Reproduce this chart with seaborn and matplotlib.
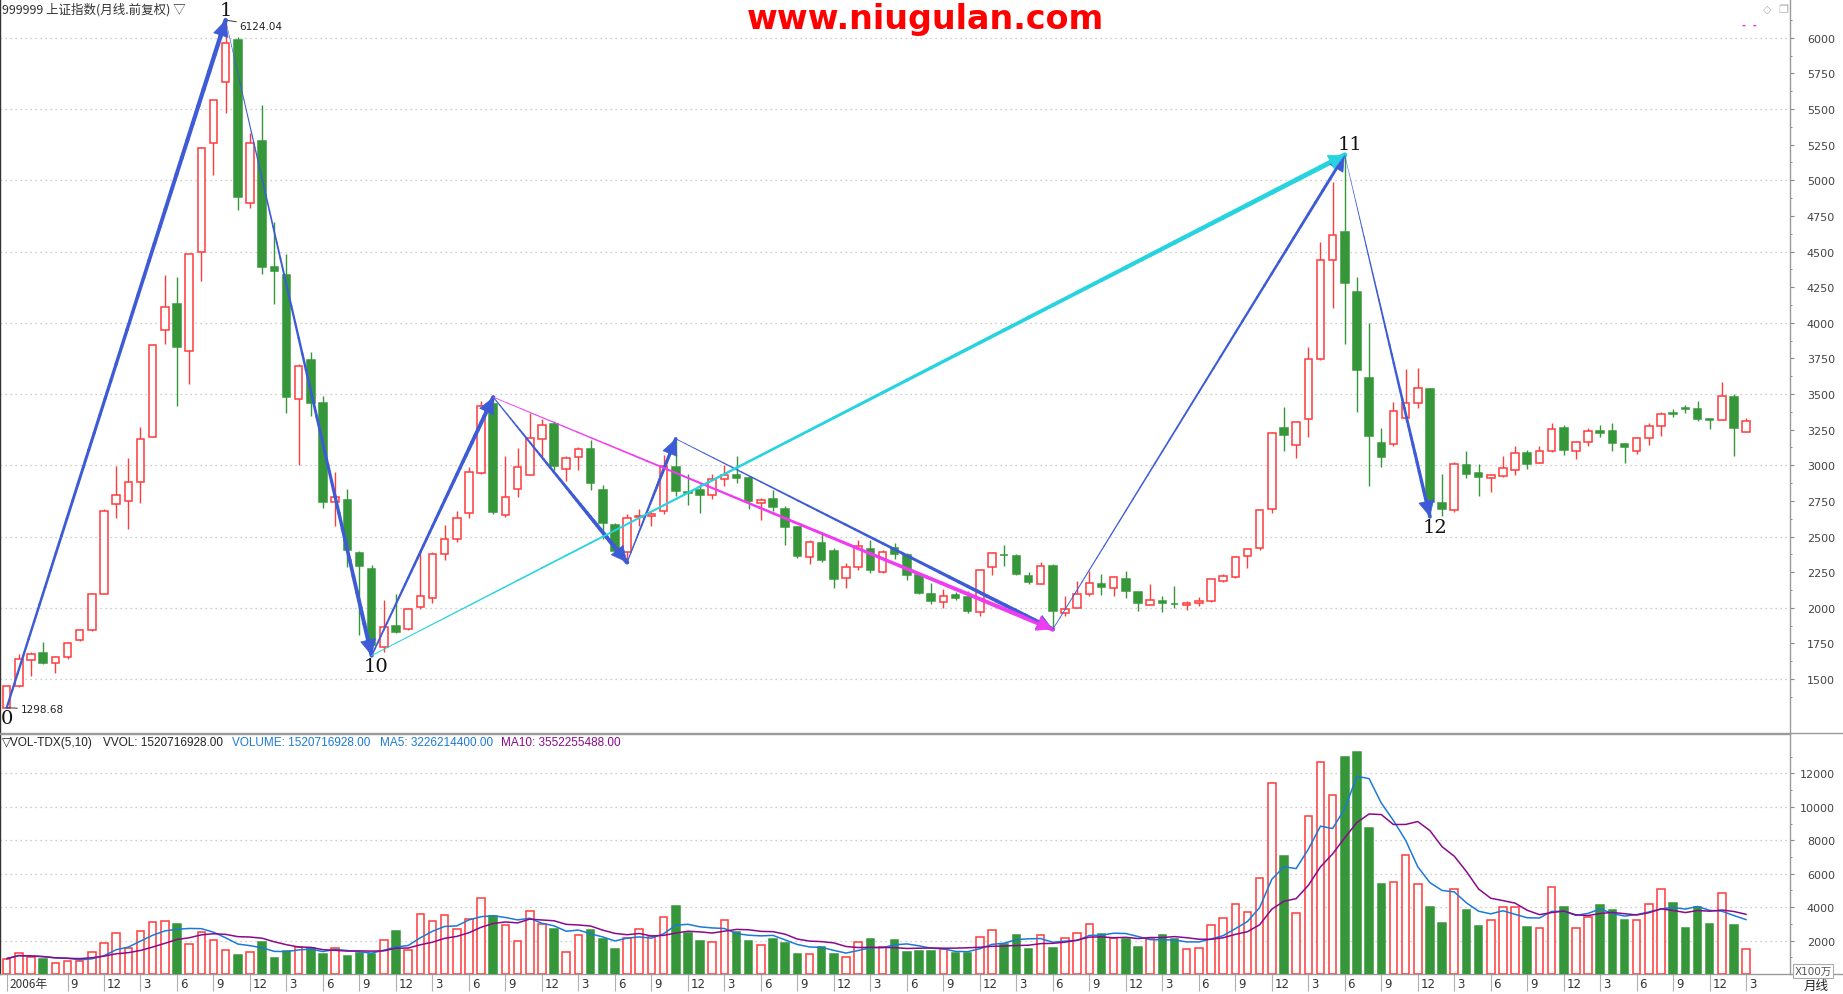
import numpy as np
import pandas as pd
import matplotlib
matplotlib.use('Agg')
import matplotlib.pyplot as plt
from matplotlib.collections import LineCollection
from matplotlib.lines import Line2D
from matplotlib.transforms import ScaledTranslation
import seaborn as sns

## Data: 上证指数 monthly, 2006-04 .. 2018-03
opens = [1300, 1449, 1632, 1681, 1616, 1658, 1771, 1842, 2100, 2730, 2753, 2885,
         3198, 3950, 4131, 3802, 4496, 5264, 5690, 5984, 4844, 5274, 4393, 4334,
         3466, 3740, 3434, 2740, 2756, 2385, 2272, 1723, 1875, 1852, 2004, 2068,
         2381, 2485, 2666, 2949, 3430, 2649, 2837, 2933, 3188, 3289, 2977, 3055,
         3113, 2825, 2579, 2391, 2636, 2642, 2680, 2987, 2812, 2825, 2792, 2907,
         2930, 2909, 2738, 2766, 2696, 2569, 2358, 2452, 2396, 2211, 2288, 2415,
         2253, 2422, 2373, 2228, 2099, 2038, 2087, 2073, 1970, 2287, 2373, 2364,
         2226, 2167, 2294, 1963, 1998, 2096, 2169, 2141, 2204, 2113, 2019, 2049,
         2028, 2017, 2033, 2049, 2190, 2218, 2363, 2419, 2691, 3260, 3145, 3328,
         3749, 4438, 4635, 4213, 3616, 3159, 3152, 3335, 3440, 3534, 2735, 2688,
         3002, 2946, 2913, 2927, 2970, 3085, 3019, 3103, 3261, 3103, 3162, 3242,
         3240, 3148, 3103, 3190, 3275, 3366, 3404, 3397, 3322, 3315, 3479, 3237]
highs = [1452, 1674, 1691, 1762, 1665, 1760, 1848, 2105, 2691, 2995, 3053, 3272,
         3848, 4335, 4318, 4480, 5231, 5564, 6124.04, 6006, 5335, 5529, 4706, 4480,
         3710, 3795, 3489, 2950, 2833, 2399, 2303, 2052, 2100, 2000, 2397, 2389,
         2579, 2680, 2989, 3448, 3478, 3062, 3118, 3364, 3324, 3308, 3062, 3125,
         3179, 2860, 2593, 2656, 2696, 2672, 3071, 3186, 2937, 2867, 2937, 3003,
         3067, 2925, 2771, 2825, 2715, 2575, 2476, 2534, 2422, 2316, 2473, 2473,
         2408, 2452, 2385, 2240, 2174, 2132, 2110, 2115, 2268, 2390, 2444, 2380,
         2254, 2322, 2308, 2085, 2190, 2261, 2237, 2223, 2261, 2113, 2169, 2080,
         2150, 2045, 2078, 2205, 2239, 2365, 2420, 2688, 3234, 3408, 3314, 3829,
         4567, 4986, 5178.19, 4321, 4002, 3260, 3447, 3674, 3681, 3543, 2939, 3021,
         3101, 3010, 2937, 3066, 3136, 3108, 3135, 3296, 3282, 3171, 3263, 3282,
         3298, 3157, 3197, 3300, 3373, 3397, 3425, 3453, 3326, 3587, 3498, 3333]
lows = [1298.68, 1445, 1520, 1605, 1545, 1642, 1765, 1838, 2094, 2633, 2553, 2737,
        3196, 3853, 3418, 3569, 4296, 5038, 5474, 4789, 4806, 4344, 4134, 3366,
        3004, 3343, 2698, 2575, 2288, 1810, 1664.93, 1691, 1820, 1844, 1994, 2037,
        2336, 2461, 2630, 2940, 2655, 2639, 2780, 2930, 3055, 2968, 2891, 2968,
        2827, 2480, 2384, 2319, 2572, 2574, 2660, 2785, 2719, 2663, 2762, 2855,
        2874, 2691, 2616, 2680, 2438, 2349, 2305, 2321, 2138, 2138, 2265, 2241,
        2245, 2340, 2193, 2096, 2028, 2002, 2052, 1963, 1946, 2233, 2291, 2230,
        2167, 2167, 1849, 1946, 1998, 2080, 2092, 2080, 2066, 1981, 2017, 1972,
        1998, 1988, 2010, 2040, 2180, 2210, 2281, 2408, 2663, 3101, 3049, 3201,
        3740, 4103, 3850, 3375, 2855, 2988, 3136, 3304, 3403, 2638.3, 2646, 2674,
        2913, 2787, 2815, 2920, 2932, 2974, 3015, 3096, 3073, 3045, 3139, 3202,
        3103, 3017, 3082, 3145, 3209, 3336, 3364, 3308, 3256, 3315, 3068, 3237]
closes = [1449, 1642, 1674, 1616, 1658, 1752, 1842, 2100, 2681, 2795, 2885, 3188,
          3844, 4112, 3828, 4480, 5225, 5564, 5964, 4886, 5264, 4393, 4360, 3479,
          3698, 3440, 2740, 2779, 2407, 2294, 1740, 1868, 1833, 1994, 2084, 2375,
          2481, 2633, 2956, 3413, 2673, 2780, 2991, 3195, 3280, 2996, 3048, 3111,
          2876, 2595, 2398, 2633, 2641, 2658, 2996, 2820, 2808, 2792, 2907, 2930,
          2912, 2750, 2759, 2708, 2567, 2363, 2464, 2335, 2204, 2288, 2431, 2265,
          2394, 2380, 2228, 2101, 2045, 2082, 2066, 1981, 2265, 2385, 2369, 2235,
          2179, 2294, 1981, 1991, 2096, 2174, 2143, 2216, 2115, 2031, 2056, 2031,
          2024, 2033, 2049, 2199, 2222, 2358, 2414, 2684, 3230, 3213, 3307, 3749,
          4438, 4614, 4281, 3672, 3206, 3058, 3384, 3440, 3539, 2742, 2693, 3007,
          2941, 2920, 2932, 2979, 3085, 3012, 3099, 3254, 3108, 3162, 3240, 3228,
          3160, 3125, 3190, 3275, 3359, 3357, 3394, 3322, 3317, 3486, 3265, 3310]
# volume in units of 100万
volumes = [920, 1280, 1040, 920, 680, 800, 800, 1340, 1840, 2480, 1580, 2600,
           3080, 3140, 2980, 1820, 2540, 2020, 1460, 1120, 1340, 1900, 940, 1400,
           1620, 1580, 1180, 1580, 1060, 1240, 1180, 2060, 2560, 1460, 3560, 3140,
           3500, 2720, 3260, 4520, 3440, 2960, 2000, 3740, 3020, 2680, 1340, 2360,
           2620, 2080, 1480, 2180, 2720, 2260, 3380, 4060, 2440, 1960, 1940, 3200,
           2540, 1960, 1760, 2080, 1840, 1180, 1220, 1640, 1180, 1040, 1940, 2080,
           1640, 2020, 1320, 1360, 1360, 1480, 1240, 1240, 2240, 2660, 1820, 2320,
           1480, 2320, 1540, 2180, 2480, 3020, 2380, 2140, 2080, 1600, 2080, 2320,
           2080, 1520, 1580, 2960, 3320, 4160, 3680, 5740, 11420, 7060, 3620, 9440,
           12680, 10700, 13000, 13300, 8740, 5380, 5480, 7100, 5360, 4000, 3040, 5060,
           3820, 2860, 3200, 3980, 3980, 2800, 2780, 5180, 4000, 2780, 3380, 4120,
           3820, 3220, 3220, 4160, 5060, 4240, 2740, 4000, 2980, 4820, 2920, 1520.7]
start_year, start_month = 2006, 4

# wave pivots: (index, 'high'/'low')
pivots = {'0': (0, 'low'), '1': (18, 'high'), '10': (30, 'low'), 'a': (40, 'high'),
          'b': (51, 'low'), 'c': (55, 'high'), 'd': (86, 'low'), '11': (110, 'high'),
          '12': (117, 'low')}

df = pd.DataFrame({'open': opens, 'high': highs, 'low': lows, 'close': closes, 'vol': volumes})
df['i'] = np.arange(len(df))
df['month'] = (start_month - 1 + df['i']) % 12 + 1
df['ma5'] = df['vol'].rolling(5, min_periods=1).mean()
df['ma10'] = df['vol'].rolling(10, min_periods=1).mean()

RED = '#ff3b3b'
GREEN = '#36963a'
BLUE = '#3d5bd6'
GRID = '#bdbdbd'

sns.set_theme(style='white')
plt.rcParams['font.family'] = ['DejaVu Sans', 'Noto Sans CJK SC']
plt.rcParams['axes.facecolor'] = 'white'

W, H = 1843, 995
fig = plt.figure(figsize=(W / 100, H / 100), dpi=100)
fig.patch.set_facecolor('white')


def box(x0, y0, x1, y1):
    return [x0 / W, 1 - y1 / H, (x1 - x0) / W, (y1 - y0) / H]


ax = fig.add_axes(box(0, 0, 1790, 734))
axv = fig.add_axes(box(0, 735, 1790, 975))
xlim = (-0.55, 146.6)

up = df['close'] >= df['open']
edge = np.where(up, RED, GREEN)
face = np.where(up, 'white', GREEN)

# ---- candles
ax.vlines(df['i'], df['low'], df['high'], colors=edge, linewidth=1, zorder=2)
body_bot = np.minimum(df['open'], df['close'])
body_h = np.maximum(np.abs(df['close'] - df['open']), 4)
ax.bar(df['i'], body_h, bottom=body_bot, width=0.62, color=face, edgecolor=edge,
       linewidth=1.1, zorder=3)

ax.set_xlim(*xlim)
ax.set_ylim(1121.7, 6272)
for lvl in range(1500, 6001, 500):
    ax.axhline(lvl, color=GRID, linestyle=(0, (1, 3)), linewidth=0.9, zorder=0)


# ---- wave arrows (thin start, thick end)
def pt(key):
    i, kind = pivots[key]
    return (i, df.loc[i, kind])


def taper(p0, p1, color, w0, w1, head=True, nseg=40):
    xs = np.linspace(p0[0], p1[0], nseg + 1)
    ys = np.linspace(p0[1], p1[1], nseg + 1)
    segs = np.stack([np.column_stack([xs[:-1], ys[:-1]]),
                     np.column_stack([xs[1:], ys[1:]])], axis=1)
    ax.add_collection(LineCollection(segs, colors=color, linewidths=np.linspace(w0, w1, nseg),
                                     capstyle='round', zorder=5))
    if head:
        ax.annotate('', xy=p1, xytext=(xs[-4], ys[-4]),
                    arrowprops=dict(arrowstyle='-|>,head_length=0.9,head_width=0.45',
                                    color=color, lw=0.5, shrinkA=0, shrinkB=0,
                                    mutation_scale=12), zorder=6)


taper(pt('0'), pt('1'), BLUE, 1.6, 3.2)
taper(pt('1'), pt('10'), BLUE, 0.4, 3.0)
taper(pt('10'), pt('a'), BLUE, 1.2, 3.0)
taper(pt('a'), pt('b'), BLUE, 0.8, 3.2)
taper(pt('b'), pt('c'), BLUE, 0.8, 2.6)
taper(pt('c'), pt('d'), BLUE, 0.6, 3.0)
taper(pt('a'), pt('d'), '#f03cf0', 0.6, 3.2)
taper(pt('d'), pt('11'), BLUE, 0.6, 2.2)
taper(pt('10'), pt('11'), '#26d3de', 0.7, 3.6)
taper(pt('11'), pt('12'), BLUE, 0.3, 2.6)

serif = dict(family='DejaVu Serif', fontsize=14, color='#111', zorder=7)
for key, dx, va in [('0', 0, 'top'), ('1', 0, 'bottom'), ('10', 3, 'top'),
                    ('11', 4, 'bottom'), ('12', 4, 'top')]:
    dy = -1 if va == 'top' else 1
    ax.annotate(key, xy=pt(key), xytext=(dx, dy), textcoords='offset points',
                ha='center', va=va, **serif)

ax.annotate('6124.04', xy=pt('1'), xytext=(10, -4), textcoords='offset points',
            fontsize=7.5, color='#222', va='center',
            arrowprops=dict(arrowstyle='-', color='#333', lw=0.7, shrinkA=0, shrinkB=0))
ax.annotate('1298.68', xy=pt('0'), xytext=(10, -1), textcoords='offset points',
            fontsize=7.5, color='#222', va='center',
            arrowprops=dict(arrowstyle='-', color='#333', lw=0.7, shrinkA=0, shrinkB=0))

# price axis on the right
ax.yaxis.tick_right()
ax.set_yticks(range(1500, 6001, 250))
ax.set_yticks(range(1375, 6200, 125), minor=True)
ax.tick_params(axis='y', which='major', direction='out', length=3, width=0.8, color='#888',
               labelsize=8, labelcolor='#444', pad=29.4, right=True, left=False)
ax.tick_params(axis='y', which='minor', direction='out', length=1.5, width=0.7, color='#888',
               right=True, left=False)
for lab in ax.get_yticklabels():
    lab.set_horizontalalignment('right')
ax.set_xticks([])
for side, sp in ax.spines.items():
    sp.set_visible(side in ('left', 'right', 'bottom'))
    sp.set_color('#9a9a9a')
    sp.set_linewidth(1)
ax.spines['left'].set_color('#333')

# ---- volume panel
axv.bar(df['i'], df['vol'], width=0.62, color=face, edgecolor=edge, linewidth=1.1, zorder=3)
sns.lineplot(data=df, x='i', y='ma5', ax=axv, color='#1a7ad8', linewidth=1.1, zorder=4)
sns.lineplot(data=df, x='i', y='ma10', ax=axv, color='#8a0a8a', linewidth=1.1, zorder=4)
axv.set_xlabel('')
axv.set_ylabel('')
axv.set_xlim(*xlim)
axv.set_ylim(0, 14353)
for lvl in range(2000, 12001, 2000):
    axv.axhline(lvl, color=GRID, linestyle=(0, (1, 3)), linewidth=0.9, zorder=0)
axv.yaxis.tick_right()
axv.set_yticks(range(2000, 12001, 2000))
axv.set_yticks(range(1000, 14000, 1000), minor=True)
axv.tick_params(axis='y', which='major', direction='out', length=3, width=0.8, color='#888',
                labelsize=8, labelcolor='#444', pad=29.4, right=True, left=False)
axv.tick_params(axis='y', which='minor', direction='out', length=1.5, width=0.7, color='#888',
                right=True, left=False)
for lab in axv.get_yticklabels():
    lab.set_horizontalalignment('right')

# month ticks every quarter; the first bar carries the year
ticks = df.loc[((df['month'] % 3 == 0) & (df['i'] >= 4)) | (df['i'] == 0), ['i', 'month']]
tick_labels = [f'{start_year}年' if i == 0 else str(m) for i, m in zip(ticks['i'], ticks['month'])]
axv.set_xticks(ticks['i'])
axv.set_xticklabels(tick_labels)
axv.tick_params(axis='x', direction='out', length=12, width=0.8, color='#b0b0b0',
                labelsize=8.5, labelcolor='#333', pad=-9.5, bottom=True)
for lab in axv.get_xticklabels():
    lab.set_horizontalalignment('left')
    lab.set_transform(lab.get_transform() + ScaledTranslation(2 / 72, 0, fig.dpi_scale_trans))
axv.get_xticklabels()[0].set_family(['Noto Sans CJK SC', 'DejaVu Sans'])
for side, sp in axv.spines.items():
    sp.set_visible(side in ('left', 'right', 'bottom', 'top'))
    sp.set_color('#9a9a9a')
    sp.set_linewidth(1)
axv.spines['left'].set_color('#333')

# ---- frame lines in the right strip
fig.add_artist(Line2D([1790 / W, 1], [1 - 734 / H] * 2, color='#9a9a9a', lw=1))
fig.add_artist(Line2D([1790 / W, 1], [1 - 975 / H] * 2, color='#9a9a9a', lw=1))

# ---- texts
fig.text(2 / W, 1 - 10 / H, '999999 上证指数(月线.前复权) ▽', fontsize=9, color='#333',
         va='center', family=['Noto Sans CJK SC', 'DejaVu Sans'])
fig.text(925 / W, 1 - 19 / H, 'www.niugulan.com', fontsize=24, fontweight='bold',
         color='#ff0000', ha='center', va='center', family='DejaVu Sans')
fig.text(1767 / W, 1 - 10 / H, '◇', fontsize=8, color='#aaa', va='center', ha='center')
fig.text(1783 / W, 1 - 10 / H, '❐', fontsize=8, color='#aaa', va='center', ha='center',
         family=['DejaVu Sans', 'Noto Sans CJK SC'])
fig.text(1742 / W, 1 - 26 / H, '-  -', fontsize=7, color='#e030e0', va='center',
         fontweight='bold')

hdr_y = 1 - 743 / H
for x, s, c in [(2, '▽VOL-TDX(5,10)', '#222'), (103, 'VVOL: 1520716928.00', '#222'),
                (232, 'VOLUME: 1520716928.00', '#1a7ad8'), (380, 'MA5: 3226214400.00', '#1a7ad8'),
                (501, 'MA10: 3552255488.00', '#8a0a8a')]:
    fig.text(x / W, hdr_y, s, fontsize=8.5, color=c, va='center',
             family=['Liberation Sans', 'DejaVu Sans'])

fig.text(1813 / W, 1 - 972 / H, 'X100万', fontsize=7.5, color='#555', ha='center', va='center',
         family=['DejaVu Sans', 'Noto Sans CJK SC'],
         bbox=dict(boxstyle='square,pad=0.15', fc='white', ec='#aaa', lw=0.8))
fig.text(1816 / W, 1 - 986 / H, '月线', fontsize=9, color='#222', ha='center', va='center',
         family=['Noto Sans CJK SC', 'DejaVu Sans'])

fig.savefig('out.png', dpi=100, facecolor='white')
